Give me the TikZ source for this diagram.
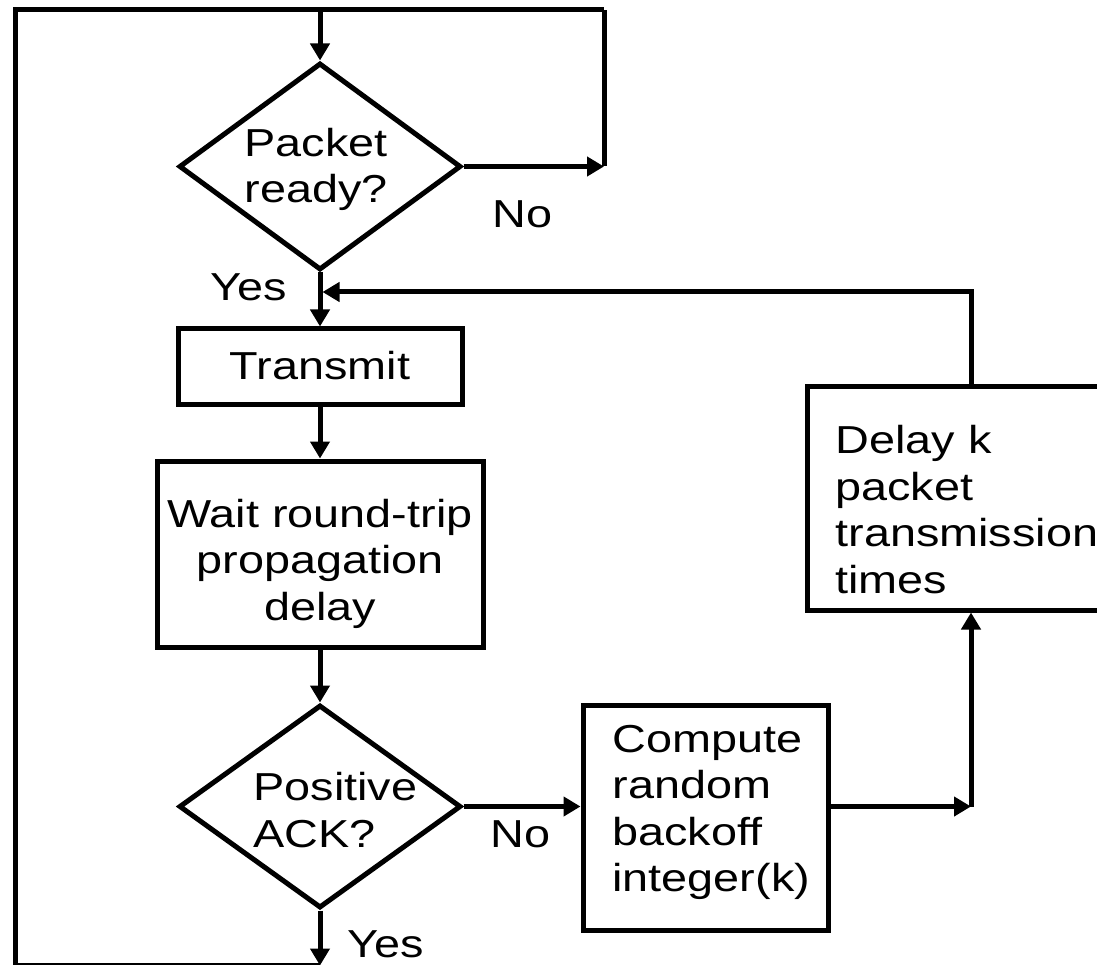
\documentclass[tikz,border=0pt]{standalone}
\usepackage{fontspec}
\setmainfont{Liberation Sans}[FakeStretch=1.2]
\usetikzlibrary{arrows.meta,shapes.geometric}
\begin{document}
\begin{tikzpicture}[x=1pt,y=-1pt,line width=5pt,line join=miter,
  shapebox/.style={draw,rectangle,inner sep=0pt},
  decision/.style={draw,diamond,inner sep=0pt},
  txt/.style={font=\fontsize{39}{46.5}\selectfont,inner sep=0pt},
  arr/.style={-{Triangle[length=17pt,width=19pt]}}]
\useasboundingbox (0,0) rectangle (1097,965);
\clip (0,0) rectangle (1097,965);
% shapes
\node[decision,minimum width=282pt,minimum height=207pt] (pr) at (320,166.5) {};
\node[shapebox,minimum width=284pt,minimum height=75pt] (tx) at (320,366.5) {};
\node[shapebox,minimum width=326pt,minimum height=186pt] (wt) at (320,554) {};
\node[decision,minimum width=282pt,minimum height=203pt] (ack) at (320,806.5) {};
\node[shapebox,minimum width=245pt,minimum height=225pt] (cp) at (705.5,817.5) {};
\node[shapebox,minimum width=343pt,minimum height=224pt] (dl) at (978.5,498) {};
% texts (multi-line: base anchor is on the last line)
\node[txt,anchor=base,align=center] (prt) at (316,203) {Packet\\ready?};
\node[txt] (txt) at (320,366) {Transmit};
\node[txt,anchor=base,align=center] (wtt) at (320,620) {Wait round-trip\\propagation\\delay};
\node[txt,anchor=base west,align=left] (ackt) at (251,847) {Positive\\ACK?};
\node[txt,anchor=base west,align=left] (cpt) at (610,891.5) {Compute\\random\\backoff\\integer(k)};
\node[txt,anchor=base west,align=left] (dlt) at (833,593) {Delay k\\packet\\transmission\\times};
\node[txt,anchor=base west] (no1) at (490,228) {No};
\node[txt,anchor=base west] (yes1) at (208,301) {Yes};
\node[txt,anchor=base west] (no2) at (488,847) {No};
\node[txt,anchor=base west] (yes2) at (345,957) {Yes};
% connector corners
\coordinate (tl) at (15,10);
\coordinate (tm) at (320,10);
\coordinate (tr) at (604,10);
\coordinate (bl) at (15,965.5);
\coordinate (bm) at (320,965.5);
\coordinate (ret) at (971,292);
\coordinate (rj) at (322.5,292);
\coordinate (cr) at (971,806.5);
% connectors
\draw (tr) -- (tl) -- (bl) -- (bm);
\draw[arr] (tm) -- (pr.north);
\draw[arr] (pr.east) -- (pr.east -| tr);
\draw (pr.east -| tr) -- (tr);
\draw[arr] (pr.south) -- (tx.north);
\draw[arr] (dl.north -| ret) -- (ret) -- (rj);
\draw[arr] (tx.south) -- (wt.north);
\draw[arr] (wt.south) -- (ack.north);
\draw[arr] (ack.south) -- (bm);
\draw[arr] (ack.east) -- (ack.east -| cp.west);
\draw[arr] (cr -| cp.east) -- (cr);
\draw[arr] (cr) -- (dl.south -| cr);
\end{tikzpicture}
\end{document}
